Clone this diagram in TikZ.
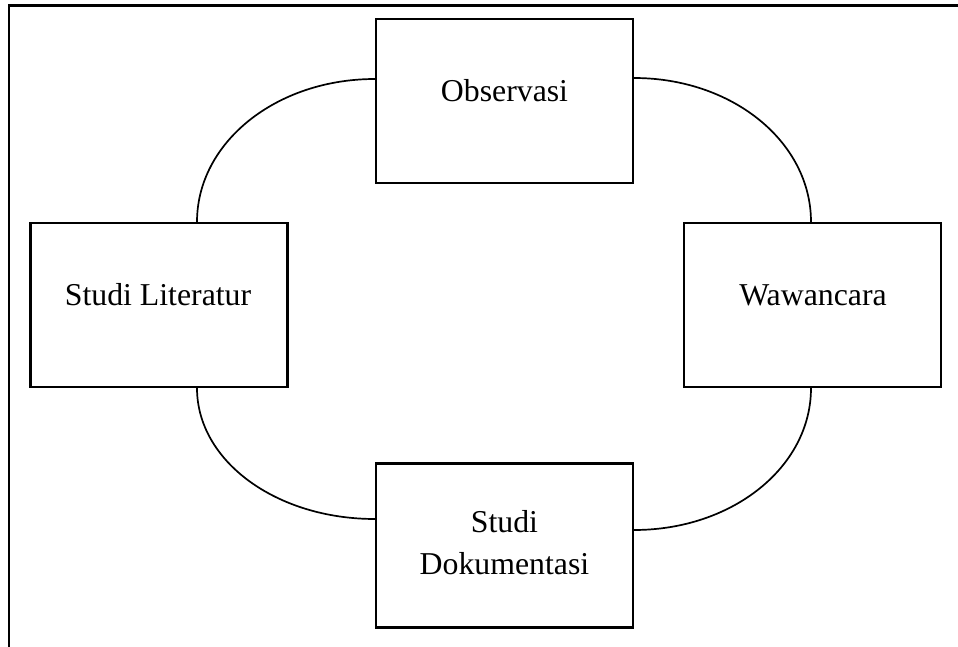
\documentclass[tikz,border=0pt]{standalone}
\usepackage{fontspec}
\setmainfont{Liberation Serif}
\begin{document}
\begin{tikzpicture}[x=1pt,y=-1pt,
  boxnode/.style={draw,line width=2.1pt,minimum width=257pt,minimum height=164pt,inner sep=0pt},
  lbl/.style={anchor=base,inner sep=0pt,align=center,font=\fontsize{31.8}{42}\selectfont},
  conn/.style={line width=1.7pt}]
\useasboundingbox (0,0) rectangle (958,647);
\draw[line width=2.8pt] (9,647) -- (9,5.8) -- (958,5.8);
\node[boxnode] (obs) at (504.5,101) {};
\node[boxnode] (lit) at (159,305) {};
\node[boxnode] (waw) at (812.5,305) {};
\node[boxnode] (dok) at (504.5,545.5) {};
\node[lbl] (tobs) at (504.5,102) {Observasi};
\node[lbl] (tlit) at (158,305) {Studi Literatur};
\node[lbl] (twaw) at (813,305) {Wawancara};
\node[lbl] (tdok) at (504.5,574) {Studi\\Dokumentasi};
\coordinate (a1) at ([yshift=22pt]obs.west);
\coordinate (a2) at ([yshift=23pt]obs.east);
\coordinate (b1) at ([xshift=38pt]lit.north);
\coordinate (b2) at ([xshift=38pt]lit.south);
\coordinate (c1) at ([xshift=-1.5pt]waw.north);
\coordinate (c2) at ([xshift=-1.5pt]waw.south);
\coordinate (d1) at ([yshift=26.5pt]dok.west);
\coordinate (d2) at ([yshift=15.5pt]dok.east);
\draw[conn] (a1) .. controls +(-98.9,0) and +(0,-79.5) .. (b1);
\draw[conn] (a2) .. controls +(98.3,0) and +(0,-80.1) .. (c1);
\draw[conn] (b2) .. controls +(0,72.9) and +(-98.9,0) .. (d1);
\draw[conn] (c2) .. controls +(0,79) and +(98.3,0) .. (d2);
\end{tikzpicture}
\end{document}
